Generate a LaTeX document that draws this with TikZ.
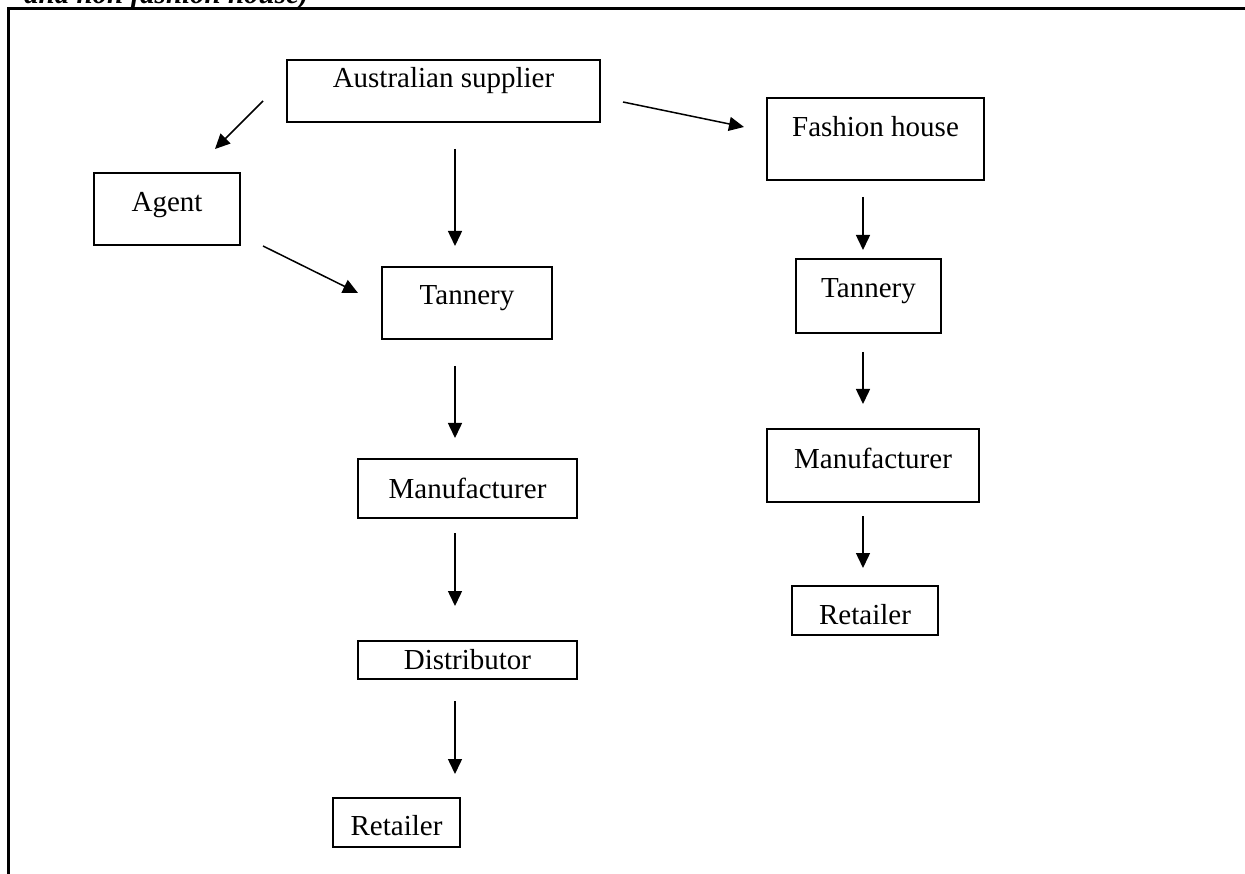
\documentclass[tikz,border=0pt]{standalone}
\usepackage{fontspec}
\setmainfont{Liberation Serif}
\usetikzlibrary{arrows.meta}
\begin{document}
\begin{tikzpicture}[x=1pt,y=-1pt,
  box/.style={draw=black,line width=1.6pt,fill=none},
  lbl/.style={anchor=base,inner sep=0pt,font=\fontsize{29}{34}\selectfont},
  arr/.style={line width=1.5pt,-{Triangle[length=15pt,width=14pt]}},
  frame/.style={line width=2.6pt}]
\useasboundingbox (0,0) rectangle (1245,874);
\clip (0,0) rectangle (1245,874);
\fill[white] (0,0) rectangle (1245,874);
% caption fragment
\node[anchor=base west,inner sep=0pt,font=\fontsize{29}{34}\selectfont\bfseries\itshape] (cap) at (24,4) {and non fashion house)};
% frame
\draw[frame] (1250,8.5) -- (8.5,8.5) -- (8.5,880);
% boxes
\node[box,minimum width=313pt,minimum height=62pt,inner sep=0pt] (as) at (443.5,91) {};
\node[lbl] (ast) at (443.5,88) {Australian supplier};
\node[box,minimum width=146pt,minimum height=72pt,inner sep=0pt] (ag) at (167,209) {};
\node[lbl] (agt) at (167,212) {Agent};
\node[box,minimum width=170pt,minimum height=72pt,inner sep=0pt] (tl) at (467,303) {};
\node[lbl] (tlt) at (467,305) {Tannery};
\node[box,minimum width=219pt,minimum height=59pt,inner sep=0pt] (ml) at (467.5,488.5) {};
\node[lbl] (mlt) at (467.5,498) {Manufacturer};
\node[box,minimum width=219pt,minimum height=38pt,inner sep=0pt] (dl) at (467.5,660) {};
\node[lbl] (dlt) at (467.5,669) {Distributor};
\node[box,minimum width=127pt,minimum height=49pt,inner sep=0pt] (rl) at (396.5,822.5) {};
\node[lbl] (rlt) at (396.5,835) {Retailer};
\node[box,minimum width=217pt,minimum height=82pt,inner sep=0pt] (fh) at (875.5,139) {};
\node[lbl] (fht) at (875.5,137) {Fashion house};
\node[box,minimum width=145pt,minimum height=74pt,inner sep=0pt] (tr) at (868.5,296) {};
\node[lbl] (trt) at (868.5,298) {Tannery};
\node[box,minimum width=212pt,minimum height=73pt,inner sep=0pt] (mr) at (873,465.5) {};
\node[lbl] (mrt) at (873,468) {Manufacturer};
\node[box,minimum width=146pt,minimum height=49pt,inner sep=0pt] (rr) at (865,610.5) {};
\node[lbl] (rrt) at (865,624) {Retailer};
% connector end points
\coordinate (a1s) at (263,101);
\coordinate (a1e) at (215,149);
\coordinate (a2s) at (455,149);
\coordinate (a2e) at (455,246);
\coordinate (a3s) at (263,246);
\coordinate (a3e) at (358,293);
\coordinate (a4s) at (623,102);
\coordinate (a4e) at (744,127);
\coordinate (a5s) at (863,197);
\coordinate (a5e) at (863,250);
\coordinate (a6s) at (863,352);
\coordinate (a6e) at (863,404);
\coordinate (a7s) at (863,516);
\coordinate (a7e) at (863,568);
\coordinate (a8s) at (455,366);
\coordinate (a8e) at (455,438);
\coordinate (a9s) at (455,533);
\coordinate (a9e) at (455,606);
\coordinate (a10s) at (455,701);
\coordinate (a10e) at (455,774);
\draw[arr] (a1s) -- (a1e);
\draw[arr] (a2s) -- (a2e);
\draw[arr] (a3s) -- (a3e);
\draw[arr] (a4s) -- (a4e);
\draw[arr] (a5s) -- (a5e);
\draw[arr] (a6s) -- (a6e);
\draw[arr] (a7s) -- (a7e);
\draw[arr] (a8s) -- (a8e);
\draw[arr] (a9s) -- (a9e);
\draw[arr] (a10s) -- (a10e);
\end{tikzpicture}
\end{document}
